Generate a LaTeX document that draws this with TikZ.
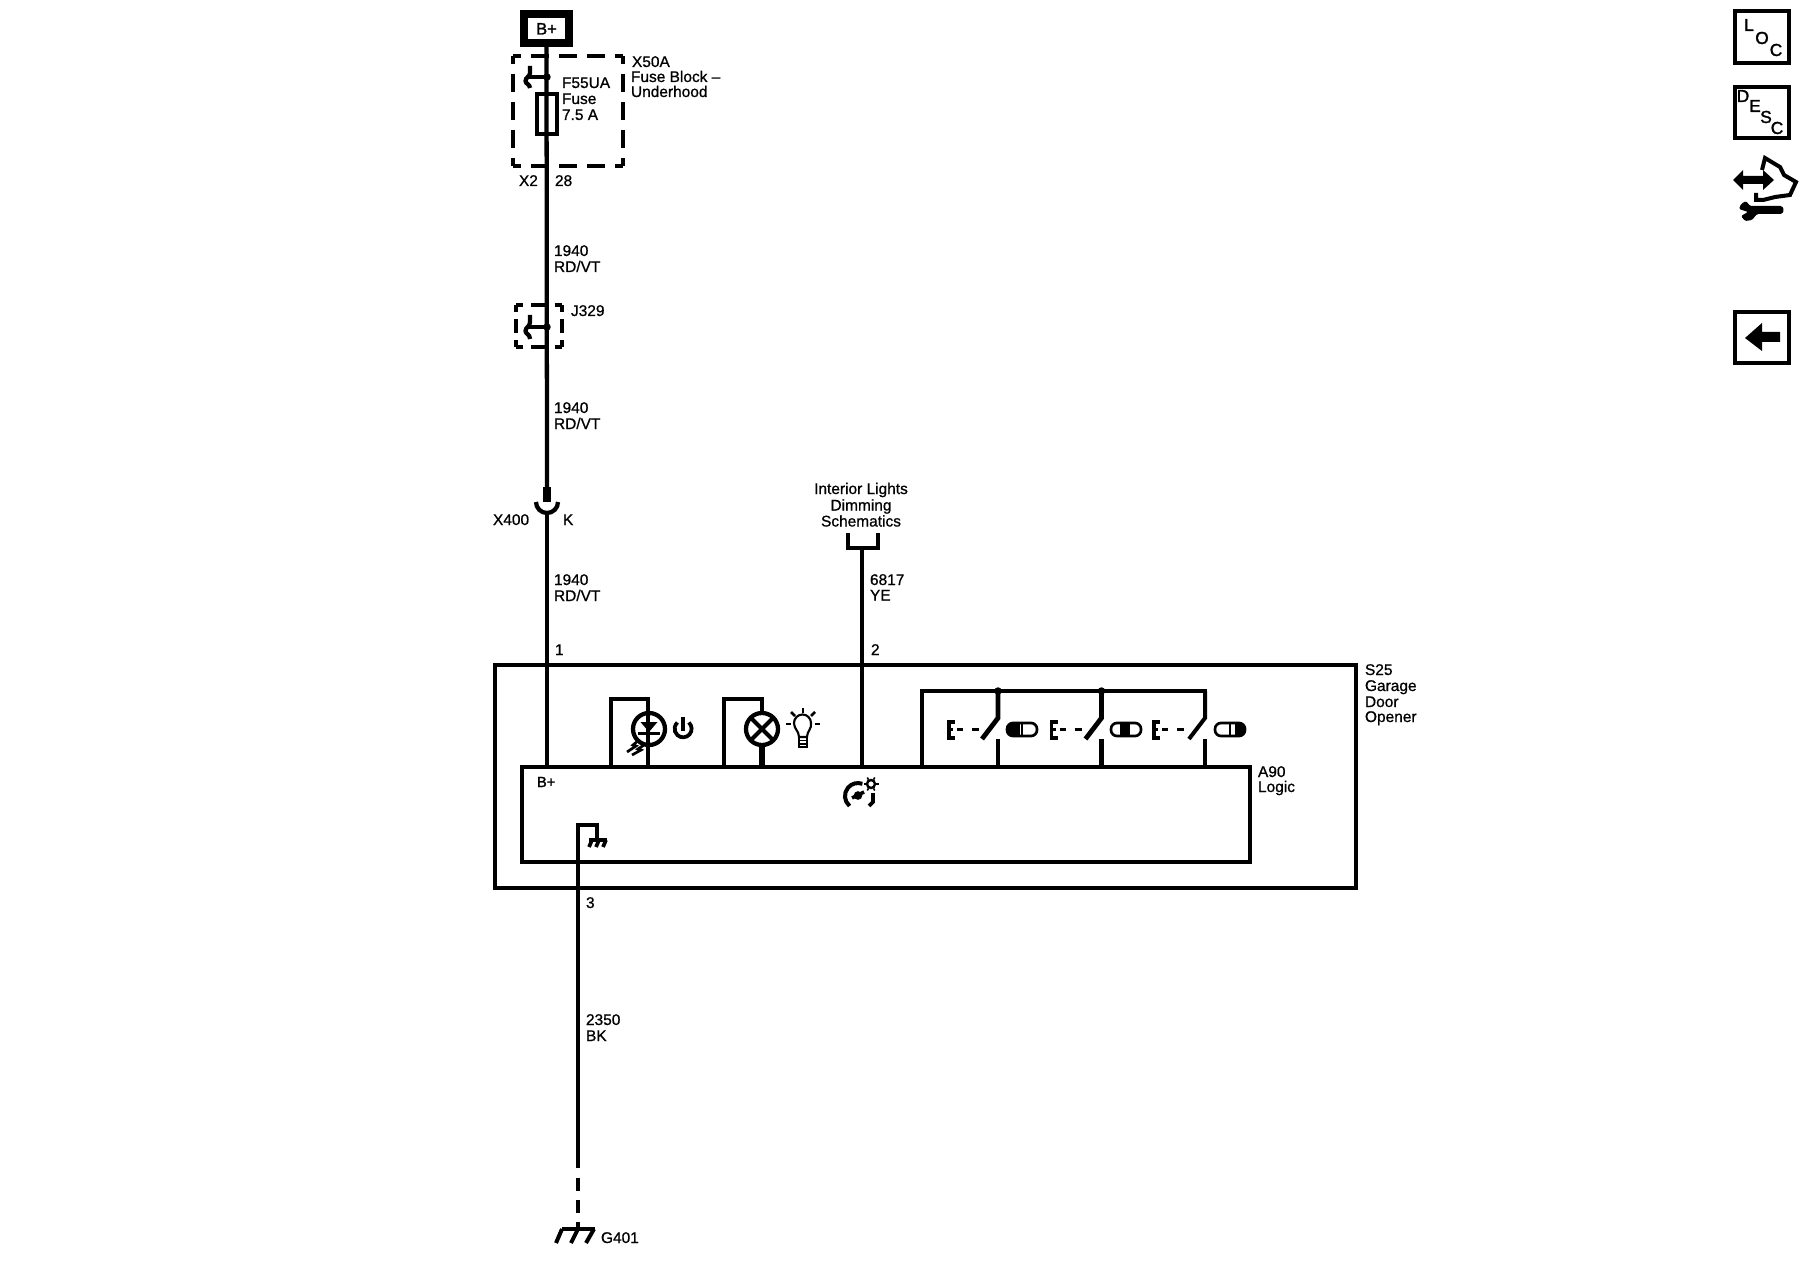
\documentclass[tikz,border=0pt]{standalone}
\usepackage{fontspec}
\setmainfont[FakeBold=0.8]{Liberation Sans}
\newfontfamily\iconfont[FakeBold=1.6]{Liberation Sans}
\usetikzlibrary{calc}
\tikzset{
  lbl/.style={anchor=base west,inner sep=0pt,outer sep=0pt,font=\fontsize{11.6}{12}\selectfont},
  clbl/.style={anchor=base,inner sep=0pt,outer sep=0pt,font=\fontsize{11.6}{12}\selectfont},
  wire/.style={line width=3.2pt,line cap=butt},
  thinw/.style={line width=2.6pt},
  boxx/.style={draw,line width=3.2pt,inner sep=0pt,outer sep=0pt,fill=none},
  dashbig/.style={line width=3.2pt,dash pattern=on 13.5pt off 7.5pt,dash phase=7.5pt},
  dashsmW/.style={line width=3pt,dash pattern=on 11.5pt off 6pt,dash phase=6pt},
  dashsmH/.style={line width=3pt,dash pattern=on 10.5pt off 5.25pt,dash phase=5.25pt},
  dot/.style={circle,fill=black,inner sep=0pt,outer sep=0pt,minimum size=5.6pt},
  lett/.style={inner sep=0pt,outer sep=0pt,font=\iconfont\fontsize{13}{14}\selectfont},
}
\begin{document}
\begin{tikzpicture}[x=0.75pt,y=-0.75pt]
\useasboundingbox (0,0) rectangle (1800,1280);
\fill[white] (0,0) rectangle (1800,1280);

% B+ source
\node[boxx,line width=6.4pt,minimum width=33.75pt,minimum height=21.75pt] (bplus) at (546.5,28.5) {};
\node[clbl,font=\iconfont\fontsize{12.4}{13}\selectfont] (bplustxt) at (546.5,34.5) {B+};

% Fuse block dashed box
\draw[dashbig] (513,56) -- (623,56);
\draw[dashbig] (513,166) -- (623,166);
\draw[dashbig] (513,56) -- (513,166);
\draw[dashbig] (623,56) -- (623,166);

% Junction in fuse block
\coordinate (j1) at (547,77);
\node[boxx,line width=2.4pt,minimum width=15pt,minimum height=30pt] (fuse) at (547,114) {};
\node[dot] at (j1) {};
\draw[wire] (j1) -- (528,77);
\draw[wire] (530,66) -- (530,73) .. controls (530,77) and (525.5,77) .. (525.5,81) .. controls (525.5,84) and (530,84) .. (530,88);

% J329
\draw[dashsmW] (516,305) -- (562,305);
\draw[dashsmW] (516,347) -- (562,347);
\draw[dashsmH] (516,305) -- (516,347);
\draw[dashsmH] (562,305) -- (562,347);
\coordinate (j2) at (547,327);
\node[dot] at (j2) {};
\draw[wire] (j2) -- (528,327);
\draw[wire] (530,315) -- (530,322) .. controls (530,327) and (525.5,327) .. (525.5,331) .. controls (525.5,334) and (530,334) .. (530,339);

% X400 connector
\coordinate (xtop) at (547,487);
\coordinate (xbot) at (547,502);
\coordinate (xcup) at (547,513);
\draw[wire] (bplus.south) -- (xtop);
\draw[line width=6pt] (xtop) -- (xbot);
\draw[wire] (536,502) arc[start angle=180,end angle=0,radius=11,y radius=11];

% Module boxes
\node[boxx,anchor=north west,minimum width=645.75pt,minimum height=167.25pt] (s25) at (495,665) {};
\node[boxx,anchor=north west,minimum width=546pt,minimum height=71.25pt] (a90) at (522,767) {};

% Wires into modules
\coordinate (a90p1) at (547,767);
\coordinate (a90p2) at (862,767);
\draw[wire] (xcup) -- (a90p1);
\coordinate (brk) at (862,548);
\draw[wire] (brk) -- (a90p2);
\draw[wire] (848,533) -- (848,548) -- (878,548) -- (878,533);

% LED
\node[draw,circle,line width=3.2pt,minimum size=24pt,inner sep=0pt,outer sep=0pt] (led) at (649,729) {};
\draw[wire] (611,767) -- (611,699) -- (648,699) -- (648,713);
\draw[wire] (648,713) -- (648,767);
\fill (640.5,722) -- (657.5,722) -- (649,732) -- cycle;
\draw[thinw] (638,733.5) -- (660,733.5);
\draw[line width=2pt] (639,740) -- (633,745) -- (636,746) -- (627,752);
\draw[line width=2pt] (644,745) -- (638,749) -- (641,750) -- (632,755);
% power icon
\draw[line width=2.8pt] (688.8,722.5) arc[start angle=-48,end angle=228,radius=8.5,y radius=8.5];
\draw[line width=2.8pt] (683,717) -- (683,731);

% Lamp
\node[draw,circle,line width=3.2pt,minimum size=24pt,inner sep=0pt,outer sep=0pt] (lamp) at (762,729) {};
\draw[wire] (724,767) -- (724,699) -- (762,699) -- (lamp.north);
\draw[wire,line width=3.8pt] (lamp.south) -- (762,767);
\draw[line width=3pt] (lamp.45) -- (lamp.225);
\draw[line width=3pt] (lamp.135) -- (lamp.315);
% bulb icon
\draw[line width=1.6pt] (799,737) .. controls (799,731) and (794,729) .. (794,723) arc[start angle=180,end angle=360,radius=8.5,y radius=8.5] .. controls (812,729) and (807,731) .. (807,737) -- cycle;
\draw[line width=1.6pt] (799,737) -- (799,747) -- (807,747) -- (807,737);
\draw[line width=1.2pt] (799,740.5) -- (807,740.5);
\draw[line width=1.2pt] (799,744) -- (807,744);
\draw[line width=2pt] (803,708) -- (803,713);
\draw[line width=2pt] (791,712) -- (795,716);
\draw[line width=2pt] (815,712) -- (811,716);
\draw[line width=2pt] (786,724) -- (791,724);
\draw[line width=2pt] (815,724) -- (820,724);

% Switch frame
\draw[wire] (922,767) -- (922,691) -- (1205,691) -- (1205,718);
\foreach \i/\dx/\ex/\lw in {1/0/0/3.6pt,2/103.5/102.5/3.6pt,3/207/205/3pt}{
  \coordinate (swt\i) at ($(998,691)+(\dx,0)$);
  \coordinate (swm\i) at ($(998,718)+(\dx,0)$);
  \coordinate (swb\i) at ($(998,767)+(\dx,0)$);
  \coordinate (swc\i) at ($(998,739)+(\dx,0)$);
  \draw[line width=\lw] (swt\i) -- (swm\i) -- ($(982,739)+(\dx,0)$);
  \draw[line width=\lw] (swb\i) -- (swc\i);
  \draw[line width=2.8pt] ($(955,722)+(\ex,0)$) -- ($(949,722)+(\ex,0)$) -- ($(949,738)+(\ex,0)$) -- ($(955,738)+(\ex,0)$);
  \draw[line width=2.8pt] ($(949,729.5)+(\ex,0)$) -- ($(953,729.5)+(\ex,0)$);
  \draw[line width=2.8pt] ($(957,729.5)+(\ex,0)$) -- ($(963,729.5)+(\ex,0)$);
  \draw[line width=2.8pt] ($(972,729.5)+(\ex,0)$) -- ($(979,729.5)+(\ex,0)$);
}
\node[dot] at (swt1) {};
\node[dot] at (swt2) {};
% Pills
\foreach \n/\cx/\bl/\br in {1/1022/-15/-2.5,2/1126/-6/4,3/1230/5/15}{
  \begin{scope}
    \clip[rounded corners=5pt] (\cx-15,722.5) rectangle (\cx+15,736.5);
    \fill (\cx+\bl,722) rectangle (\cx+\br,737);
  \end{scope}
  \draw[line width=2pt,rounded corners=4.5pt] (\cx-15,723) rectangle (\cx+15,736);
  \draw[line width=1.6pt] (\cx,723) -- (\cx,736);
}

% Dimming icon
\draw[line width=3pt] (849.6,806) arc[start angle=130,end angle=290,radius=13,y radius=13];
\draw[line width=2.8pt] (873,793) -- (873,802) -- (869,806);
\draw[line width=2.4pt] (858,795.5) circle[radius=2.6];
\draw[line width=2.6pt] (852,798) -- (864,792);
\draw[line width=1.8pt] (871,784) circle[radius=4];
\foreach \a in {0,60,...,300}{\draw[line width=1.2pt] ($(871,784)+(\a:5)$) -- ($(871,784)+(\a:7.5)$);}

% Ground inside logic and ground wire
\coordinate (gin) at (578,825);
\coordinate (gdash) at (578,1168);
\coordinate (gbar) at (578,1228);
\draw[wire] (597,838) -- (597,825) -- (gin) -- (gdash);
\draw[wire,dash pattern=on 9.75pt off 6.75pt,dash phase=0pt] (578,1178) -- (gbar);
\draw[line width=3pt] (589,840) -- (607,840);
\draw[line width=2.8pt] (592,840) -- (589,847);
\draw[line width=2.8pt] (599,840) -- (596,847);
\draw[line width=2.8pt] (606,840) -- (603,847);
\draw[line width=3.4pt] (562,1229) -- (595,1229);
\draw[line width=3pt] (562,1229) -- (556,1243);
\draw[line width=3pt] (578,1229) -- (571,1243);
\draw[line width=3pt] (594,1229) -- (586,1243);

% Labels
\node[lbl] (l1) at (632,67) {X50A};
\node[lbl] (l2) at (631,82) {Fuse Block –};
\node[lbl] (l3) at (631,97) {Underhood};
\node[lbl] (l4) at (562,88) {F55UA};
\node[lbl] (l5) at (562,104) {Fuse};
\node[lbl] (l6) at (562,120) {7.5 A};
\node[lbl] (l7) at (519,186) {X2};
\node[lbl] (l8) at (555,186) {28};
\node[lbl] (w1a) at (554,256) {1940};
\node[lbl] (w1b) at (554,272) {RD/VT};
\node[lbl] (jl) at (571,316) {J329};
\node[lbl] (w2a) at (554,413) {1940};
\node[lbl] (w2b) at (554,429) {RD/VT};
\node[lbl] (xl) at (493,525) {X400};
\node[lbl] (kl) at (563,525) {K};
\node[lbl] (w3a) at (554,585) {1940};
\node[lbl] (w3b) at (554,601) {RD/VT};
\node[lbl] (p1) at (555,655) {1};
\node[clbl] (d1) at (861,494) {Interior Lights};
\node[clbl] (d2) at (861,510.5) {Dimming};
\node[clbl] (d3) at (861,526.5) {Schematics};
\node[lbl] (w4a) at (870,585) {6817};
\node[lbl] (w4b) at (870,600.5) {YE};
\node[lbl] (p2) at (871,655) {2};
\node[lbl] (s1) at (1365,675) {S25};
\node[lbl] (s2) at (1365,691) {Garage};
\node[lbl] (s3) at (1365,707) {Door};
\node[lbl] (s4) at (1365,722) {Opener};
\node[lbl] (a1) at (1258,777) {A90};
\node[lbl] (a2) at (1258,792) {Logic};
\node[lbl,font=\iconfont\fontsize{11}{12}\selectfont] (bp) at (537,787) {B+};
\node[lbl] (p3) at (586,908) {3};
\node[lbl] (w5a) at (586,1025) {2350};
\node[lbl] (w5b) at (586,1041) {BK};
\node[lbl] (gl) at (601,1243) {G401};

% Right icons
\node[boxx,line width=2.6pt,anchor=north west,minimum width=40.5pt,minimum height=39pt] (loc) at (1735,11) {};
\node[lett] (locl) at (1749,25) {L};
\node[lett] (loco) at (1762,38) {O};
\node[lett] (locc) at (1776,50) {C};
\node[boxx,line width=2.6pt,anchor=north west,minimum width=40.5pt,minimum height=38.25pt] (desc) at (1735,87) {};
\node[lett] (desd) at (1743,96) {D};
\node[lett] (dese) at (1755,106) {E};
\node[lett] (dess) at (1766,117) {S};
\node[lett] (desc2) at (1777,128) {C};

% Hand + arrows + wrench icon
\draw[line width=3pt] (1762,170) -- (1765,158) -- (1780,167) -- (1784,175) -- (1796,182) -- (1790,195) -- (1775,197) -- (1763,200) -- (1756,200) -- (1756,193);
\fill (1733,180) -- (1743,170) -- (1743,176) -- (1763,176) -- (1763,170) -- (1774,180) -- (1763,190) -- (1763,184) -- (1743,184) -- (1743,190) -- cycle;
\fill[rounded corners=1pt] (1750,206) -- (1782,206) -- (1784,210) -- (1782,214) -- (1757,214) -- (1752,220) -- (1745,221) -- (1741,216) -- (1748,212) -- (1739,209) -- (1741,204) -- (1746,201) -- cycle;

% Back arrow box
\node[boxx,line width=2.6pt,anchor=north west,minimum width=40.5pt,minimum height=38.25pt] (back) at (1735,312) {};
\fill (1745,338) -- (1762,323) -- (1762,332) -- (1780,332) -- (1780,342) -- (1762,342) -- (1762,351) -- cycle;
\end{tikzpicture}
\end{document}
